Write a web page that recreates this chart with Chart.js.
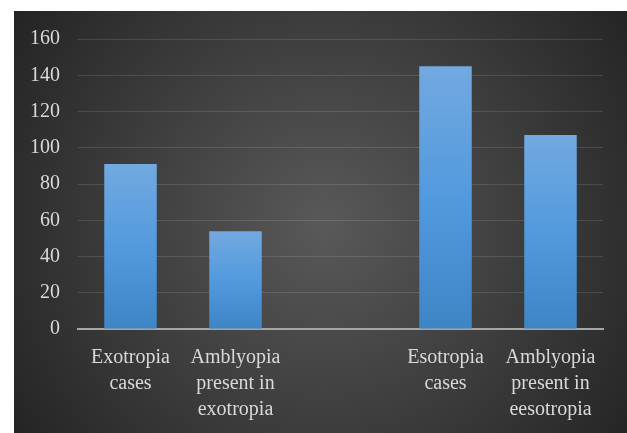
<!DOCTYPE html>
<html>
<head>
<meta charset="utf-8">
<script src="https://cdn.jsdelivr.net/npm/chart.js@4"></script>
<style>
  html, body { margin: 0; padding: 0; background: #fff; }
  canvas { display: block; }
</style>
</head>
<body>
<canvas id="chart" width="627" height="433"></canvas>
<script>
// data
const categories = [
  ['Exotropia', 'cases'],
  ['Amblyopia', 'present in', 'exotropia'],
  '',
  ['Esotropia', 'cases'],
  ['Amblyopia', 'present in', 'eesotropia']
];
const counts = [91, 54, null, 145, 107];
const yTicks = [0, 20, 40, 60, 80, 100, 120, 140, 160];

Chart.defaults.font.family = 'Liberation Serif';
Chart.defaults.font.size = 20;
Chart.defaults.color = '#d9d9d9';

// dark panel with a soft radial light behind the plot
const panelBg = {
  id: 'panelBg',
  beforeDraw(chart) {
    const { ctx, width, height } = chart;
    ctx.save();
    ctx.fillStyle = '#fff';
    ctx.fillRect(0, 0, width, height);
    const g = ctx.createRadialGradient(325, 225, 0, 325, 225, 390);
    g.addColorStop(0, '#595959');
    g.addColorStop(0.55, '#3b3b3b');
    g.addColorStop(1, '#222222');
    ctx.fillStyle = g;
    ctx.fillRect(14, 11, width - 14, height - 11);
    ctx.restore();
  }
};

function barFill(c) {
  const chart = c.chart;
  if (!chart.chartArea || c.raw == null) return '#5b9bd5';
  const y = chart.scales.y;
  const g = chart.ctx.createLinearGradient(0, y.getPixelForValue(c.raw), 0, y.getPixelForValue(0));
  g.addColorStop(0, '#72a9e0');
  g.addColorStop(0.5, '#529ade');
  g.addColorStop(1, '#3e85c6');
  return g;
}

new Chart(document.getElementById('chart'), {
  type: 'bar',
  data: {
    labels: categories,
    datasets: [{
      data: counts,
      backgroundColor: barFill,
      borderWidth: 0,
      barPercentage: 0.5,
      categoryPercentage: 1
    }]
  },
  options: {
    responsive: false,
    animation: false,
    layout: { padding: { left: 14, right: 24, top: 39, bottom: 0 } },
    plugins: { legend: { display: false }, tooltip: { enabled: false } },
    scales: {
      x: {
        grid: { display: false, drawTicks: false },
        border: { display: true, color: '#a6a6a6', width: 2 },
        ticks: {
          color: '#d9d9d9',
          font: { family: 'Liberation Serif', size: 20, lineHeight: 1.3 },
          padding: 16, maxRotation: 0, autoSkip: false
        },
        afterFit: s => { s.height = 104; }
      },
      y: {
        min: 0,
        max: 160,
        afterBuildTicks: s => { s.ticks = yTicks.map(v => ({ value: v })); },
        grid: { color: 'rgba(255,255,255,0.12)', drawTicks: false },
        border: { display: false },
        ticks: {
          color: '#d9d9d9',
          font: { family: 'Liberation Serif', size: 20 },
          padding: 18
        },
        afterFit: s => { s.width = 64; }
      }
    }
  },
  plugins: [panelBg]
});
</script>
</body>
</html>
